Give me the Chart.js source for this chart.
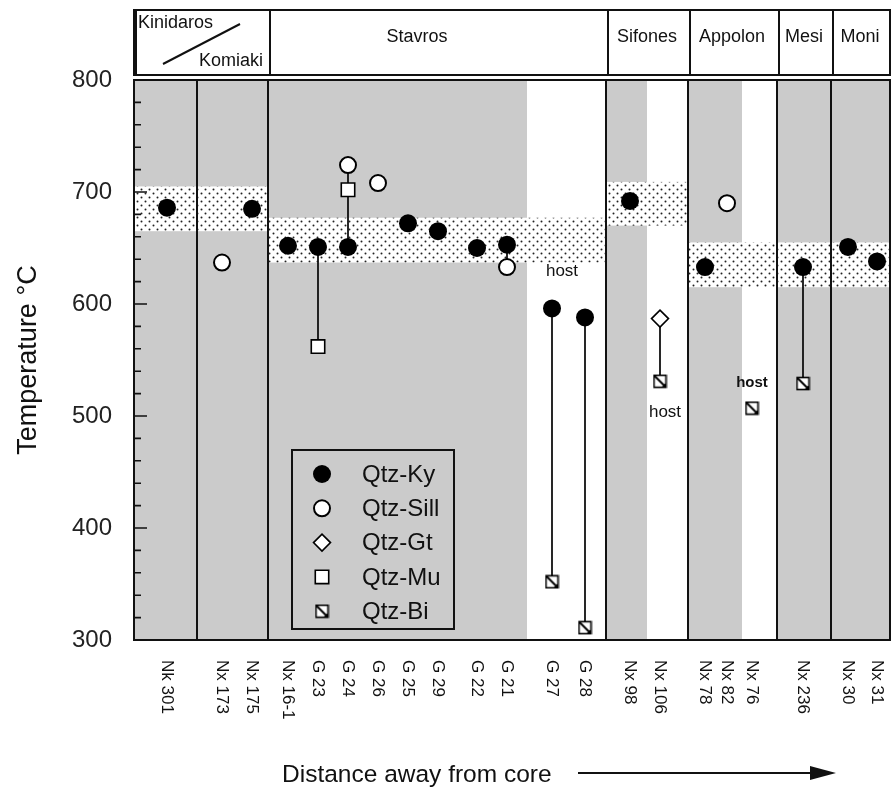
<!DOCTYPE html>
<html><head><meta charset="utf-8">
<script src="https://cdn.jsdelivr.net/npm/chart.js@4.4.1/dist/chart.umd.min.js"></script>
<style>html,body{margin:0;padding:0;background:#fff}canvas{display:block}</style>
</head><body>
<canvas id="c" width="893" height="789"></canvas>
<script>
// ---------------- data ----------------
const samples  = ['Nk 301','Nx 173','Nx 175','Nx 16-1','G 23','G 24','G 26','G 25','G 29','G 22','G 21','G 27','G 28','Nx 98','Nx 106','Nx 78','Nx 82','Nx 76','Nx 236','Nx 30','Nx 31'];
const distance = [33,88,118,154,184,214,244,274,304,343,373,418,451,496,526,571,593,618,669,714,743];
const qtzKy   = [686,null,685,652,651,651,null,672,665,650,653,596,588,692,null,633,null,null,633,651,638];
const qtzSill = [null,637,null,null,null,724,708,null,null,null,633,null,null,null,null,null,690,null,null,null,null];
const qtzGt   = [null,null,null,null,null,null,null,null,null,null,null,null,null,null,587,null,null,null,null,null,null];
const qtzMu   = [null,null,null,null,562,702,null,null,null,null,null,null,null,null,null,null,null,null,null,null,null];
const qtzBi   = [null,null,null,null,null,null,null,null,null,null,null,352,311,null,531,null,null,507,529,null,null];

const regionNames = ['', 'Stavros', 'Sifones', 'Appolon', 'Mesi', 'Moni'];
const regionStart = [0, 134, 472, 554, 643, 697];
const regionEnd   = [134, 472, 554, 643, 697, 756];
const regionLabelAt = [67, 283, 513, 598, 670, 726];
const subDividers = [63];
const bandLow  = [665, 637, 670, 615, 615, 615];
const bandHigh = [705, 677, 709, 655, 655, 655];
const whiteStripStart = [393, 513, 608];
const whiteStripEnd   = [472, 554, 643];
const noteText = ['host', 'host', 'host'];
const noteX    = [428, 531, 618];
const noteT    = [629, 503, 530];
const noteBold = [false, false, true];
const yTicks = [300, 400, 500, 600, 700, 800];

// ---------------- helpers ----------------
const FONT = '"Liberation Sans", Arial, Helvetica, sans-serif';
function pts(arr){ const o=[]; arr.forEach((v,i)=>{ if(v!=null) o.push({x:distance[i], y:v}); }); return o; }
function connectors(){
  const o=[];
  samples.forEach((s,i)=>{
    const v=[qtzKy[i],qtzSill[i],qtzGt[i],qtzMu[i],qtzBi[i]].filter(x=>x!=null);
    if(v.length>1){ o.push({x:distance[i],y:Math.min(...v)}); o.push({x:distance[i],y:Math.max(...v)}); o.push({x:distance[i],y:null}); }
  });
  return o;
}
function biMarker(){
  const c=document.createElement('canvas'); c.width=15; c.height=15;
  const g=c.getContext('2d');
  g.fillStyle='#fff'; g.fillRect(1.5,1.5,12,12);
  g.strokeStyle='#000'; g.lineWidth=1.6; g.strokeRect(1.5,1.5,12,12);
  g.beginPath(); g.moveTo(2,2); g.lineTo(13,13); g.lineWidth=2; g.stroke();
  g.fillStyle='#000'; g.beginPath(); g.moveTo(13.5,9); g.lineTo(13.5,13.5); g.lineTo(9,13.5); g.closePath(); g.fill();
  return c;
}
function stipple(){
  const c=document.createElement('canvas'); c.width=8; c.height=8;
  const g=c.getContext('2d');
  g.fillStyle='#fff'; g.fillRect(0,0,8,8);
  g.fillStyle='#222';
  g.beginPath(); g.arc(1.5,1.5,1.0,0,Math.PI*2); g.fill();
  g.beginPath(); g.arc(5.5,5.5,1.0,0,Math.PI*2); g.fill();
  return c;
}
const BI = biMarker();
const GRAY = 'rgb(203,203,203)';

function drawMarker(ctx, ds, x, y){
  const st = ds.pointStyle, r = ds.pointRadius;
  ctx.save();
  ctx.fillStyle = ds.pointBackgroundColor; ctx.strokeStyle = ds.pointBorderColor; ctx.lineWidth = ds.pointBorderWidth;
  if (st instanceof HTMLCanvasElement){ ctx.drawImage(st, x-st.width/2, y-st.height/2); ctx.restore(); return; }
  ctx.beginPath();
  if (st==='circle'){ ctx.arc(x,y,r,0,Math.PI*2); }
  else if (st==='rectRot'){ ctx.moveTo(x-r,y); ctx.lineTo(x,y-r); ctx.lineTo(x+r,y); ctx.lineTo(x,y+r); ctx.closePath(); }
  else if (st==='rect'){ const s=Math.SQRT1_2*r; ctx.rect(x-s,y-s,2*s,2*s); }
  ctx.fill(); if (ds.pointBorderWidth>0) ctx.stroke();
  ctx.restore();
}

// ---------------- plugins ----------------
const backdrop = {
  id:'backdrop',
  beforeDatasetsDraw(chart){
    const {ctx, chartArea:a, scales:{x,y}} = chart;
    ctx.save();
    ctx.fillStyle = GRAY; ctx.fillRect(a.left, a.top, a.right-a.left, a.bottom-a.top);
    ctx.fillStyle = '#fff';
    whiteStripStart.forEach((s,i)=>{ const x0=x.getPixelForValue(s), x1=x.getPixelForValue(whiteStripEnd[i]); ctx.fillRect(x0,a.top,x1-x0,a.bottom-a.top); });
    ctx.fillStyle = ctx.createPattern(stipple(),'repeat');
    regionStart.forEach((s,i)=>{
      const x0=x.getPixelForValue(s), x1=x.getPixelForValue(regionEnd[i]);
      const y0=y.getPixelForValue(bandHigh[i]), y1=y.getPixelForValue(bandLow[i]);
      ctx.fillRect(x0,y0,x1-x0,y1-y0);
    });
    ctx.restore();
  }
};

const decor = {
  id:'decor',
  afterDatasetsDraw(chart){
    const {ctx, chartArea:a, scales:{x,y}} = chart;
    ctx.save();
    ctx.strokeStyle = '#111'; ctx.lineWidth = 2;
    ctx.beginPath();
    regionStart.concat(subDividers).forEach(v=>{ const px=Math.round(x.getPixelForValue(v)); ctx.moveTo(px,a.top); ctx.lineTo(px,a.bottom); });
    ctx.rect(a.left, a.top, a.right-a.left, a.bottom-a.top);
    ctx.stroke();
    ctx.lineWidth = 1.6; ctx.beginPath();
    for (let v=300; v<=800; v+=20){ const py=y.getPixelForValue(v); ctx.moveTo(a.left,py); ctx.lineTo(a.left+(v%100===0?13:7),py); }
    ctx.stroke();
    const hTop = a.top-70, hBot = a.top-5;
    ctx.lineWidth = 2; ctx.beginPath();
    ctx.rect(a.left, hTop, a.right-a.left, hBot-hTop);
    regionStart.forEach(v=>{ const px=Math.round(x.getPixelForValue(v)); ctx.moveTo(px+2,hTop); ctx.lineTo(px+2,hBot); });
    ctx.stroke();
    ctx.fillStyle = '#111'; ctx.font = '18px '+FONT; ctx.textBaseline='middle'; ctx.textAlign='center';
    regionNames.forEach((n,i)=>{ if(n) ctx.fillText(n, x.getPixelForValue(regionLabelAt[i]), hTop+27); });
    ctx.textAlign='left'; ctx.fillText('Kinidaros', a.left+4, hTop+13);
    ctx.textAlign='right'; ctx.fillText('Komiaki', x.getPixelForValue(regionEnd[0])-5, hTop+51);
    ctx.lineWidth=2; ctx.beginPath(); ctx.moveTo(a.left+29,hTop+54); ctx.lineTo(a.left+106,hTop+14); ctx.stroke();
    noteText.forEach((t,i)=>{
      ctx.font = (noteBold[i]?'bold 15px ':'17px ')+FONT; ctx.textAlign='center'; ctx.textBaseline='middle';
      ctx.fillText(t, x.getPixelForValue(noteX[i]), y.getPixelForValue(noteT[i]));
    });
    ctx.font = '17px '+FONT; ctx.textAlign='left'; ctx.textBaseline='middle';
    samples.forEach((s,i)=>{
      ctx.save(); ctx.translate(x.getPixelForValue(distance[i]), a.bottom+20); ctx.rotate(Math.PI/2); ctx.fillText(s,0,0); ctx.restore();
    });
    ctx.font = '24.5px '+FONT; ctx.textAlign='left'; ctx.textBaseline='alphabetic';
    ctx.fillText('Distance away from core', 282, a.bottom+142);
    const ay = a.bottom+133;
    ctx.lineWidth=2; ctx.beginPath(); ctx.moveTo(578,ay); ctx.lineTo(815,ay); ctx.stroke();
    ctx.beginPath(); ctx.moveTo(836,ay); ctx.lineTo(810,ay-7); ctx.lineTo(810,ay+7); ctx.closePath(); ctx.fill();
    const lx0=292, ly0=450, lx1=454, ly1=629;
    ctx.lineWidth=2; ctx.strokeRect(lx0,ly0,lx1-lx0,ly1-ly0);
    ctx.font='24px '+FONT; ctx.textAlign='left'; ctx.textBaseline='middle';
    chart.data.datasets.filter(d=>!d.isConnector).forEach((ds,i)=>{
      const cy = 474 + i*34.3;
      drawMarker(ctx, ds, 322, cy);
      ctx.fillStyle='#111'; ctx.fillText(ds.label, 362, cy+1);
    });
    ctx.restore();
  }
};

// ---------------- chart ----------------
const common = {type:'scatter', pointBorderColor:'#000', showLine:false};
new Chart(document.getElementById('c'), {
  type:'scatter',
  data:{ datasets:[
    {...common, label:'Qtz-Ky',  data:pts(qtzKy),   pointStyle:'circle',  pointRadius:9,   pointBackgroundColor:'#000', pointBorderWidth:0, order:0},
    {...common, label:'Qtz-Sill',data:pts(qtzSill), pointStyle:'circle',  pointRadius:8,   pointBackgroundColor:'#fff', pointBorderWidth:2, order:0},
    {...common, label:'Qtz-Gt',  data:pts(qtzGt),   pointStyle:'rectRot', pointRadius:8.5, pointBackgroundColor:'#fff', pointBorderWidth:1.6, order:0},
    {...common, label:'Qtz-Mu',  data:pts(qtzMu),   pointStyle:'rect',    pointRadius:9.5, pointBackgroundColor:'#fff', pointBorderWidth:1.6, order:0},
    {...common, label:'Qtz-Bi',  data:pts(qtzBi),   pointStyle:BI,        pointRadius:7.5, pointBackgroundColor:'#fff', pointBorderWidth:1.6, order:0},
    {type:'line', label:'link', isConnector:true, data:connectors(), borderColor:'#111', borderWidth:1.8, pointRadius:0, spanGaps:false, fill:false, order:5}
  ]},
  options:{
    responsive:false, animation:false, devicePixelRatio:1, events:[],
    layout:{autoPadding:false, padding:{top:80,right:3,bottom:149,left:0}},
    plugins:{legend:{display:false}, tooltip:{enabled:false}},
    scales:{
      x:{type:'linear', min:0, max:756, display:false},
      y:{type:'linear', min:300, max:800,
         afterFit(s){ s.width=134; },
         afterBuildTicks(s){ s.ticks = yTicks.map(v=>({value:v})); },
         grid:{display:false, drawTicks:false}, border:{display:false},
         ticks:{padding:22, color:'#222', font:{family:FONT, size:24}},
         title:{display:true, text:'Temperature °C', color:'#111', font:{family:FONT, size:27}, padding:{top:12,bottom:0}}
      }
    }
  },
  plugins:[backdrop, decor]
});
</script>
</body></html>
